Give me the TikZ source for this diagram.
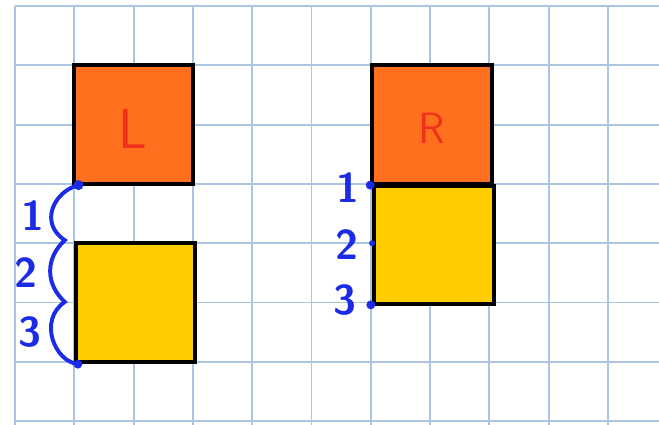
\documentclass[tikz,border=0pt]{standalone}
\usepackage{tikz}
\definecolor{gridblue}{RGB}{172,196,228}
\definecolor{boxorange}{RGB}{255,112,30}
\definecolor{boxyellow}{RGB}{255,204,0}
\definecolor{penred}{RGB}{240,50,26}
\definecolor{penblue}{RGB}{28,44,230}
\tikzset{
  boxline/.style={draw=black, line width=2pt},
  letter/.style={text=penred, font=\sffamily},
  digit/.style={text=penblue, font=\sffamily\bfseries\fontsize{20}{20}\selectfont},
  pen/.style={draw=penblue, line width=1.9pt, line cap=round}
}

\begin{document}
\begin{tikzpicture}[x=1cm,y=1cm]
\useasboundingbox (-0.253,-7.049) rectangle (10.860,0.101);
\draw[gridblue, line width=0.9pt] (0,-7.1) grid (10.9,0);
\filldraw[boxline, fill=boxorange] (1,-1) rectangle (3,-3);
\filldraw[boxline, fill=boxyellow] (1.03,-4) rectangle (3.03,-6);
\filldraw[boxline, fill=boxyellow] (6.05,-3.03) rectangle (8.08,-5.03);
\filldraw[boxline, fill=boxorange] (6.02,-1) rectangle (8.05,-3);
\node[letter, font=\sffamily\fontsize{27}{27}\selectfont] (labL) at (1.99,-2.07) {L};
\node[letter, font=\sffamily\fontsize{21}{21}\selectfont] (labR) at (7.03,-2.06) {R};
% marks on the left pair
\coordinate (dotLa) at (1.07,-3.02);
\coordinate (dotLb) at (1.06,-6.04);
\coordinate (cuspA) at (0.84,-3.95);
\coordinate (cuspB) at (0.84,-4.99);
\draw[pen] (dotLa) .. controls +(-0.4,-0.1) and +(-0.45,0.3) .. (cuspA)
  .. controls +(-0.33,-0.3) and +(-0.33,0.3) .. (cuspB)
  .. controls +(-0.45,-0.3) and +(-0.4,0.05) .. (dotLb);
\fill[penblue] (dotLa) circle (0.085);
\fill[penblue] (dotLb) circle (0.075);
\node[digit] (numLa) at (0.30,-3.54) {1};
\node[digit] (numLb) at (0.19,-4.49) {2};
\node[digit] (numLc) at (0.25,-5.50) {3};
% marks on the right pair
\coordinate (dotRa) at (5.99,-3.02);
\coordinate (dotRb) at (6.02,-4.00);
\coordinate (dotRc) at (6.00,-5.04);
\fill[penblue] (dotRa) circle (0.075);
\fill[penblue] (dotRb) circle (0.05);
\fill[penblue] (dotRc) circle (0.075);
\node[digit] (numRa) at (5.62,-3.07) {1};
\node[digit] (numRb) at (5.60,-4.03) {2};
\node[digit] (numRc) at (5.57,-4.96) {3};
\end{tikzpicture}
\end{document}
